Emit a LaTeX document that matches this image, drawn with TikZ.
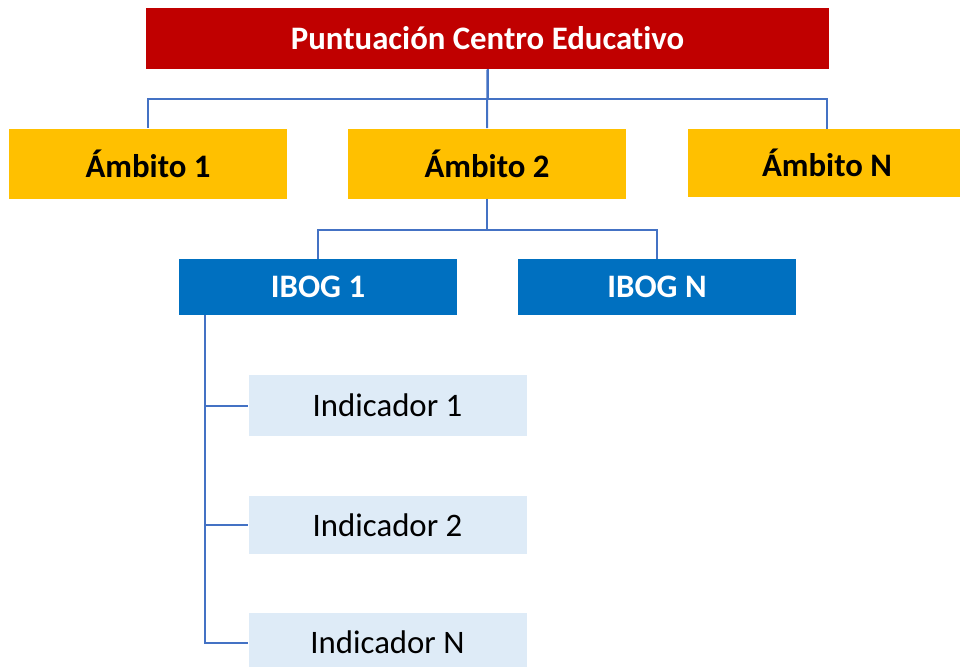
\documentclass[tikz,border=0pt]{standalone}
\usepackage{fontspec}
\setmainfont[Ligatures={NoCommon}]{Carlito}
\usetikzlibrary{calc}
\definecolor{cRed}{HTML}{C00000}
\definecolor{cYel}{HTML}{FFC000}
\definecolor{cBlue}{HTML}{0070C0}
\definecolor{cLight}{HTML}{DEEBF7}
\definecolor{cLine}{HTML}{4472C4}
\tikzset{
  base/.style={rectangle, inner sep=0pt, minimum width=208.5pt, font=\fontsize{24.6}{30}\selectfont},
  topbox/.style={base, fill=cRed, text=white, font=\fontsize{24.6}{30}\selectfont\bfseries, minimum width=512.25pt, minimum height=45.75pt},
  ambbox/.style={base, fill=cYel, text=black, font=\fontsize{24.6}{30}\selectfont\bfseries, minimum height=52.5pt},
  ibogbox/.style={base, fill=cBlue, text=white, font=\fontsize{24.6}{30}\selectfont\bfseries, minimum height=42pt},
  indbox/.style={base, fill=cLight, text=black},
  conn/.style={draw=cLine, line width=1.5pt}
}
\begin{document}
\begin{tikzpicture}[x=0.75pt, y=-0.75pt]
\useasboundingbox (0,0) rectangle (960,667);
\clip (0,0) rectangle (960,667);
\node[topbox] (top) at (487.5,38.5) {Puntuación Centro Educativo};
\node[ambbox] (a1) at (148,163.5) {Ámbito 1};
\node[ambbox] (a2) at (487,163.5) {Ámbito 2};
\node[ambbox, minimum height=51pt] (a3) at (827,163) {Ámbito N};
\node[ibogbox] (i1) at (318,287) {IBOG 1};
\node[ibogbox] (i2) at (657,287) {IBOG N};
\node[indbox, minimum height=45.75pt] (d1) at (387.5,405.5) {Indicador 1};
\node[indbox, minimum height=43.5pt] (d2) at (387.5,525) {Indicador 2};
\node[indbox, minimum height=44.25pt] (dN) at (387.5,642.5) {Indicador N};
\draw[conn] (top.south) -- ++(0,30) -| (a1.north);
\draw[conn] (top.south) -- ++(0,30) -| (a3.north);
\draw[conn] (top.south) -- (a2.north);
\draw[conn] (a2.south) -- ++(0,31.5) -| (i1.north);
\draw[conn] (a2.south) -- ++(0,31.5) -| (i2.north);
\coordinate (spine) at ($(i1.south west)+(26,0)$);
\draw[conn] (spine) |- (dN.west);
\draw[conn] (spine) |- (d1.west);
\draw[conn] (spine) |- (d2.west);
\end{tikzpicture}
\end{document}
